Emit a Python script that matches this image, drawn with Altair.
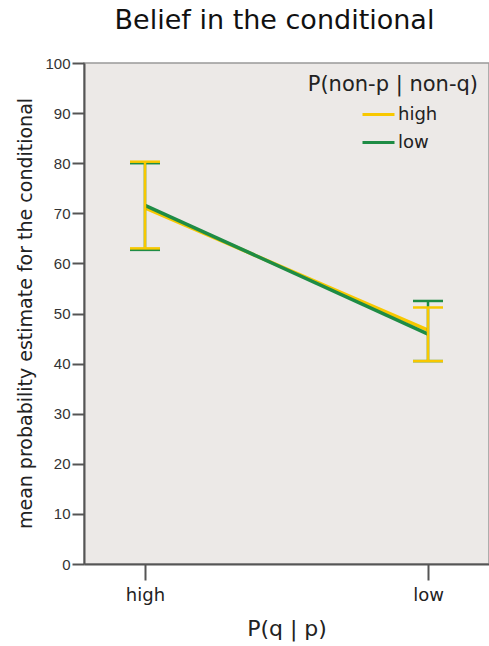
import altair as alt
import pandas as pd

# data
conditions = ["high", "low"]                 # P(q|p)
series = ["high", "low"]                     # P(non-p|non-q)
mean_high = [71.1, 46.7]
lower_high = [63.0, 40.5]
upper_high = [80.3, 51.2]
mean_low = [71.6, 45.9]
lower_low = [62.7, 40.5]
upper_low = [80.0, 52.5]
y_ticks = [0, 10, 20, 30, 40, 50, 60, 70, 80, 90, 100]

YELLOW = "#F8C800"
GREEN = "#1E8C45"

rows = []
for s, m, lo, hi in [("high", mean_high, lower_high, upper_high),
                     ("low", mean_low, lower_low, upper_low)]:
    for i, c in enumerate(conditions):
        rows.append({"cond": c, "series": s, "mean": m[i], "lo": lo[i], "hi": hi[i],
                     "ord": 1 if s == "high" else 0})
df = pd.DataFrame(rows)

FONT = "DejaVu Sans"

xenc = alt.X("cond:N", sort=conditions,
             scale=alt.Scale(type="point", padding=0.2155),
             axis=alt.Axis(title="P(q | p)", labelAngle=0, tickSize=16,
                           labelPadding=6, labelFontSize=18, labelFont=FONT,
                           labelColor="#222", titleFont=FONT, titleFontSize=22,
                           titleFontWeight="normal", titleColor="#222",
                           titlePadding=14, domainColor="#555", tickColor="#555",
                           domainWidth=2, tickWidth=2))
yscale = alt.Scale(domain=[0, 100], nice=False, zero=True)
yenc = alt.Y("mean:Q", scale=yscale,
             axis=alt.Axis(values=y_ticks, title="mean probability estimate for the conditional",
                           grid=False, tickSize=12, labelPadding=2, labelFontSize=15,
                           labelFont="Liberation Sans", labelColor="#333",
                           titleFont=FONT, titleFontSize=19, titleFontWeight="normal",
                           titleColor="#222", titleX=-59, titleY=250,
                           titleAngle=-90, titleAlign="center", titleBaseline="middle",
                           domainColor="#555", tickColor="#555", domainWidth=2, tickWidth=2))
color = alt.Color("series:N", scale=alt.Scale(domain=series, range=[YELLOW, GREEN]),
                  legend=alt.Legend(title=None, orient="none", legendX=277, legendY=34,
                                    symbolType="stroke", symbolSize=1024,
                                    symbolStrokeWidth=3, labelFontSize=18,
                                    labelFont=FONT, labelColor="#222", rowPadding=1,
                                    labelOffset=2, padding=0))

base = alt.Chart(df)

lines = base.mark_line(strokeWidth=3.5).encode(x=xenc, y=yenc, color=color,
                                                order=alt.Order("ord:Q"))
rules_g = base.transform_filter(alt.datum.series == "low").mark_rule(strokeWidth=2.5, color=GREEN).encode(
    x="cond:N", y=alt.Y("lo:Q", scale=yscale), y2="hi:Q")
rules_y = base.transform_filter(alt.datum.series == "high").mark_rule(strokeWidth=2.5, color=YELLOW).encode(
    x="cond:N", y=alt.Y("lo:Q", scale=yscale), y2="hi:Q")
caps = []
for s, col in [("low", GREEN), ("high", YELLOW)]:
    for f in ["lo", "hi"]:
        caps.append(base.transform_filter(alt.datum.series == s).mark_tick(
            size=30, thickness=2.5, color=col, orient="horizontal", opacity=1).encode(
            x="cond:N", y=alt.Y(f"{f}:Q", scale=yscale)))

legend_title = alt.Chart(pd.DataFrame({"t": ["P(non-p | non-q)"]})).mark_text(
    align="right", baseline="middle", fontSize=21, font=FONT, color="#222").encode(
    x=alt.value(394), y=alt.value(22), text="t:N")

chart = alt.layer(lines, rules_g, caps[0], caps[1], rules_y, caps[2], caps[3], legend_title).properties(
    width=405, height=501,
    padding={"left": 84, "top": 63, "right": 0, "bottom": 82},
    autosize="none",
    background="white",
    title=alt.TitleParams("Belief in the conditional", fontSize=27, font=FONT,
                          fontWeight="normal", color="#111", anchor="middle",
                          dx=-12, offset=21),
).configure_view(fill="#ECE9E7", stroke="#999", strokeWidth=1.5)

chart.save("out.html", embed_options={"renderer": "svg", "actions": False})
